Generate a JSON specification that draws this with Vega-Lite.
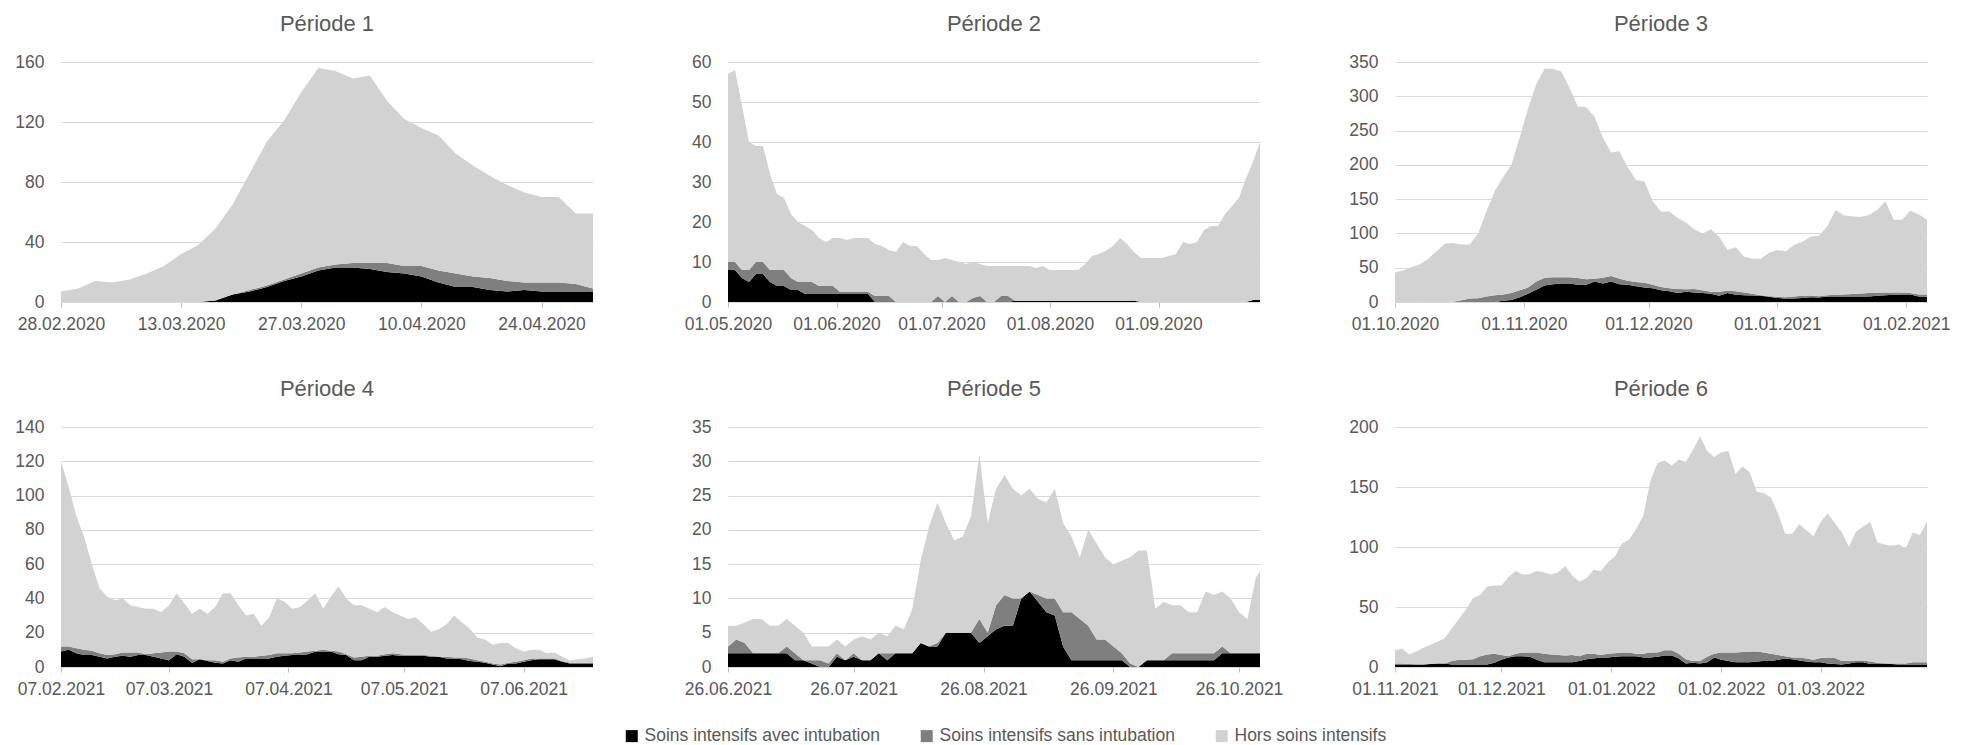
{
"$schema": "https://vega.github.io/schema/vega-lite/v6.json",
"background": "white",
"padding": {"left": 14, "top": 13, "right": 5, "bottom": 5},
"config": {
  "font": "Liberation Sans, Arial, sans-serif",
  "view": {"stroke": null},
  "title": {"fontSize": 22, "fontWeight": "normal", "color": "#595959", "offset": 17, "anchor": "middle", "font": "Liberation Sans, Arial, sans-serif"},
  "axis": {"labelFont": "Liberation Sans, Arial, sans-serif", "labelFontSize": 17.5, "labelColor": "#595959", "title": null},
  "axisX": {"grid": false, "domain": true, "domainColor": "#d9d9d9", "ticks": true, "tickColor": "#bfbfbf", "tickSize": 5, "labelPadding": 8, "labelFlush": false, "labelOverlap": false, "format": "%d.%m.%Y", "formatType": "utc"},
  "axisY": {"domain": false, "ticks": false, "grid": true, "gridColor": "#d9d9d9", "labelPadding": 17},
  "legend": {"labelFont": "Liberation Sans, Arial, sans-serif"},
  "area": {"interpolate": "linear"}
},
"datasets": {
  "series": [
    {"key": "avec", "rank": 1, "label": "Soins intensifs avec intubation"},
    {"key": "sans", "rank": 2, "label": "Soins intensifs sans intubation"},
    {"key": "hors", "rank": 3, "label": "Hors soins intensifs"}
  ],
  "p1": [
    {"d":"2020-02-28","avec":0,"sans":0,"hors":7},
    {"d":"2020-03-01","avec":0,"sans":0,"hors":9},
    {"d":"2020-03-03","avec":0,"sans":0,"hors":14},
    {"d":"2020-03-05","avec":0,"sans":0,"hors":13},
    {"d":"2020-03-07","avec":0,"sans":0,"hors":15},
    {"d":"2020-03-09","avec":0,"sans":0,"hors":19},
    {"d":"2020-03-11","avec":0,"sans":0,"hors":24},
    {"d":"2020-03-13","avec":0,"sans":0,"hors":32},
    {"d":"2020-03-15","avec":0,"sans":0,"hors":38},
    {"d":"2020-03-17","avec":1,"sans":0,"hors":48},
    {"d":"2020-03-19","avec":5,"sans":0,"hors":60},
    {"d":"2020-03-21","avec":7,"sans":1,"hors":78},
    {"d":"2020-03-23","avec":10,"sans":1,"hors":96},
    {"d":"2020-03-25","avec":14,"sans":1,"hors":106},
    {"d":"2020-03-27","avec":17,"sans":2,"hors":121},
    {"d":"2020-03-29","avec":21,"sans":2,"hors":133},
    {"d":"2020-03-31","avec":23,"sans":2,"hors":129},
    {"d":"2020-04-02","avec":23,"sans":3,"hors":123},
    {"d":"2020-04-04","avec":22,"sans":4,"hors":125},
    {"d":"2020-04-06","avec":20,"sans":6,"hors":108},
    {"d":"2020-04-08","avec":19,"sans":5,"hors":98},
    {"d":"2020-04-10","avec":17,"sans":7,"hors":92},
    {"d":"2020-04-12","avec":13,"sans":8,"hors":90},
    {"d":"2020-04-14","avec":10,"sans":9,"hors":80},
    {"d":"2020-04-16","avec":10,"sans":7,"hors":74},
    {"d":"2020-04-18","avec":8,"sans":8,"hors":68},
    {"d":"2020-04-20","avec":7,"sans":7,"hors":64},
    {"d":"2020-04-22","avec":8,"sans":5,"hors":60},
    {"d":"2020-04-24","avec":7,"sans":6,"hors":57},
    {"d":"2020-04-26","avec":7,"sans":6,"hors":57},
    {"d":"2020-04-28","avec":7,"sans":5,"hors":47},
    {"d":"2020-04-30","avec":7,"sans":2,"hors":50}
  ],
  "p2": [
    {"d":"2020-05-01","avec":8,"sans":2,"hors":47},
    {"d":"2020-05-03","avec":8,"sans":2,"hors":48},
    {"d":"2020-05-05","avec":6,"sans":2,"hors":41},
    {"d":"2020-05-07","avec":5,"sans":3,"hors":32},
    {"d":"2020-05-09","avec":7,"sans":3,"hors":29},
    {"d":"2020-05-11","avec":7,"sans":3,"hors":29},
    {"d":"2020-05-13","avec":5,"sans":3,"hors":24},
    {"d":"2020-05-15","avec":4,"sans":4,"hors":19},
    {"d":"2020-05-17","avec":4,"sans":4,"hors":18},
    {"d":"2020-05-19","avec":3,"sans":3,"hors":16},
    {"d":"2020-05-21","avec":3,"sans":2,"hors":15},
    {"d":"2020-05-23","avec":2,"sans":3,"hors":14},
    {"d":"2020-05-25","avec":2,"sans":3,"hors":13},
    {"d":"2020-05-27","avec":2,"sans":2,"hors":12},
    {"d":"2020-05-29","avec":2,"sans":2,"hors":11},
    {"d":"2020-05-31","avec":2,"sans":2,"hors":12},
    {"d":"2020-06-02","avec":2,"sans":0.5,"hors":13.5},
    {"d":"2020-06-04","avec":2,"sans":0.5,"hors":13},
    {"d":"2020-06-06","avec":2,"sans":0.5,"hors":13.5},
    {"d":"2020-06-08","avec":2,"sans":0.5,"hors":13.5},
    {"d":"2020-06-10","avec":2,"sans":0.5,"hors":13.5},
    {"d":"2020-06-12","avec":0,"sans":1.5,"hors":13},
    {"d":"2020-06-14","avec":0,"sans":1.5,"hors":12.5},
    {"d":"2020-06-16","avec":0,"sans":1.5,"hors":11.5},
    {"d":"2020-06-18","avec":0,"sans":0,"hors":12.5},
    {"d":"2020-06-20","avec":0,"sans":0,"hors":15},
    {"d":"2020-06-22","avec":0,"sans":0,"hors":14},
    {"d":"2020-06-24","avec":0,"sans":0,"hors":14},
    {"d":"2020-06-26","avec":0,"sans":0,"hors":12},
    {"d":"2020-06-28","avec":0,"sans":0,"hors":10.5},
    {"d":"2020-06-30","avec":0,"sans":1.5,"hors":9},
    {"d":"2020-07-02","avec":0,"sans":0,"hors":11},
    {"d":"2020-07-04","avec":0,"sans":1.5,"hors":9},
    {"d":"2020-07-06","avec":0,"sans":0,"hors":10},
    {"d":"2020-07-08","avec":0,"sans":0,"hors":9.5},
    {"d":"2020-07-10","avec":0,"sans":1,"hors":9},
    {"d":"2020-07-12","avec":0,"sans":1.5,"hors":8},
    {"d":"2020-07-14","avec":0,"sans":0,"hors":9},
    {"d":"2020-07-16","avec":0,"sans":0,"hors":9},
    {"d":"2020-07-18","avec":0,"sans":1.5,"hors":7.5},
    {"d":"2020-07-20","avec":0,"sans":1.5,"hors":7.5},
    {"d":"2020-07-22","avec":0.3,"sans":0,"hors":8.7},
    {"d":"2020-07-24","avec":0.3,"sans":0,"hors":8.7},
    {"d":"2020-07-26","avec":0.3,"sans":0,"hors":8.7},
    {"d":"2020-07-28","avec":0.3,"sans":0,"hors":8.2},
    {"d":"2020-07-30","avec":0.3,"sans":0,"hors":8.7},
    {"d":"2020-08-01","avec":0.3,"sans":0,"hors":7.7},
    {"d":"2020-08-03","avec":0.3,"sans":0,"hors":7.7},
    {"d":"2020-08-05","avec":0.3,"sans":0,"hors":7.7},
    {"d":"2020-08-07","avec":0.3,"sans":0,"hors":7.7},
    {"d":"2020-08-09","avec":0.3,"sans":0,"hors":7.7},
    {"d":"2020-08-11","avec":0.3,"sans":0,"hors":9.2},
    {"d":"2020-08-13","avec":0.3,"sans":0,"hors":11.2},
    {"d":"2020-08-15","avec":0.3,"sans":0,"hors":11.7},
    {"d":"2020-08-17","avec":0.3,"sans":0,"hors":12.5},
    {"d":"2020-08-19","avec":0.3,"sans":0,"hors":13.7},
    {"d":"2020-08-21","avec":0.3,"sans":0,"hors":15.7},
    {"d":"2020-08-23","avec":0.3,"sans":0,"hors":14.2},
    {"d":"2020-08-25","avec":0.3,"sans":0,"hors":12.2},
    {"d":"2020-08-27","avec":0,"sans":0,"hors":11},
    {"d":"2020-08-29","avec":0,"sans":0,"hors":11},
    {"d":"2020-08-31","avec":0,"sans":0,"hors":11},
    {"d":"2020-09-02","avec":0,"sans":0,"hors":11},
    {"d":"2020-09-04","avec":0,"sans":0,"hors":11.5},
    {"d":"2020-09-06","avec":0,"sans":0,"hors":12},
    {"d":"2020-09-08","avec":0,"sans":0,"hors":15},
    {"d":"2020-09-10","avec":0,"sans":0,"hors":14.5},
    {"d":"2020-09-12","avec":0,"sans":0,"hors":15},
    {"d":"2020-09-14","avec":0,"sans":0,"hors":18},
    {"d":"2020-09-16","avec":0,"sans":0,"hors":19},
    {"d":"2020-09-18","avec":0,"sans":0,"hors":19},
    {"d":"2020-09-20","avec":0,"sans":0,"hors":22},
    {"d":"2020-09-22","avec":0,"sans":0,"hors":24},
    {"d":"2020-09-24","avec":0,"sans":0,"hors":26},
    {"d":"2020-09-26","avec":0,"sans":0,"hors":31},
    {"d":"2020-09-28","avec":0.5,"sans":0,"hors":34.5},
    {"d":"2020-09-30","avec":0.5,"sans":0,"hors":39.5}
  ],
  "p3": [
    {"d":"2020-10-01","avec":0,"sans":0,"hors":43},
    {"d":"2020-10-03","avec":0,"sans":0,"hors":46},
    {"d":"2020-10-05","avec":0,"sans":0,"hors":51},
    {"d":"2020-10-07","avec":0,"sans":0,"hors":55},
    {"d":"2020-10-09","avec":0,"sans":0,"hors":63},
    {"d":"2020-10-11","avec":0,"sans":0,"hors":74},
    {"d":"2020-10-13","avec":0,"sans":0,"hors":85},
    {"d":"2020-10-15","avec":0,"sans":0.5,"hors":85.5},
    {"d":"2020-10-17","avec":0,"sans":2.5,"hors":81.5},
    {"d":"2020-10-19","avec":0,"sans":5,"hors":79},
    {"d":"2020-10-21","avec":0,"sans":5.5,"hors":94.5},
    {"d":"2020-10-23","avec":0,"sans":8,"hors":124},
    {"d":"2020-10-25","avec":0,"sans":10,"hors":152},
    {"d":"2020-10-27","avec":2,"sans":9,"hors":171},
    {"d":"2020-10-29","avec":3,"sans":10,"hors":187},
    {"d":"2020-10-31","avec":7,"sans":10,"hors":223},
    {"d":"2020-11-02","avec":12,"sans":9,"hors":261},
    {"d":"2020-11-04","avec":18,"sans":12,"hors":288},
    {"d":"2020-11-06","avec":24,"sans":11.5,"hors":304.5},
    {"d":"2020-11-08","avec":26,"sans":10,"hors":304},
    {"d":"2020-11-10","avec":27,"sans":9,"hors":300},
    {"d":"2020-11-12","avec":27,"sans":9,"hors":276},
    {"d":"2020-11-14","avec":25,"sans":10,"hors":250},
    {"d":"2020-11-16","avec":25,"sans":8,"hors":251},
    {"d":"2020-11-18","avec":30,"sans":4,"hors":236},
    {"d":"2020-11-20","avec":27,"sans":8.5,"hors":204.5},
    {"d":"2020-11-22","avec":30,"sans":8,"hors":180},
    {"d":"2020-11-24","avec":26,"sans":8,"hors":186},
    {"d":"2020-11-26","avec":25,"sans":6,"hors":165},
    {"d":"2020-11-28","avec":23,"sans":6,"hors":149},
    {"d":"2020-11-30","avec":21,"sans":7,"hors":148},
    {"d":"2020-12-02","avec":20,"sans":5,"hors":122},
    {"d":"2020-12-04","avec":17,"sans":5,"hors":110},
    {"d":"2020-12-06","avec":15.5,"sans":4.5,"hors":112},
    {"d":"2020-12-08","avec":13,"sans":6,"hors":104},
    {"d":"2020-12-10","avec":15,"sans":3.5,"hors":97.5},
    {"d":"2020-12-12","avec":14,"sans":5,"hors":87},
    {"d":"2020-12-14","avec":13,"sans":4,"hors":83},
    {"d":"2020-12-16","avec":12,"sans":3,"hors":91},
    {"d":"2020-12-18","avec":9,"sans":6,"hors":80},
    {"d":"2020-12-20","avec":13,"sans":3.5,"hors":59.5},
    {"d":"2020-12-22","avec":10.5,"sans":5,"hors":64.5},
    {"d":"2020-12-24","avec":10,"sans":4,"hors":52},
    {"d":"2020-12-26","avec":9.5,"sans":2.5,"hors":51},
    {"d":"2020-12-28","avec":9,"sans":1,"hors":53},
    {"d":"2020-12-30","avec":7.5,"sans":1,"hors":63.5},
    {"d":"2021-01-01","avec":6,"sans":1.5,"hors":68.5},
    {"d":"2021-01-03","avec":5,"sans":2,"hors":67},
    {"d":"2021-01-05","avec":5,"sans":3,"hors":75},
    {"d":"2021-01-07","avec":6,"sans":3,"hors":79},
    {"d":"2021-01-09","avec":7,"sans":2.5,"hors":85.5},
    {"d":"2021-01-11","avec":6.5,"sans":2,"hors":88.5},
    {"d":"2021-01-13","avec":8,"sans":2,"hors":100},
    {"d":"2021-01-15","avec":8,"sans":2.5,"hors":123.5},
    {"d":"2021-01-17","avec":8,"sans":3,"hors":115},
    {"d":"2021-01-19","avec":8,"sans":3.5,"hors":113.5},
    {"d":"2021-01-21","avec":8,"sans":4.5,"hors":111.5},
    {"d":"2021-01-23","avec":8,"sans":5,"hors":114},
    {"d":"2021-01-25","avec":9,"sans":4.5,"hors":120.5},
    {"d":"2021-01-27","avec":10,"sans":4,"hors":133},
    {"d":"2021-01-29","avec":10.5,"sans":3.5,"hors":106},
    {"d":"2021-01-31","avec":11,"sans":3,"hors":106},
    {"d":"2021-02-02","avec":11,"sans":2,"hors":120},
    {"d":"2021-02-04","avec":8,"sans":3,"hors":117},
    {"d":"2021-02-06","avec":7.5,"sans":3.5,"hors":109}
  ],
  "p4": [
    {"d":"2021-02-07","avec":9,"sans":3,"hors":108},
    {"d":"2021-02-09","avec":10,"sans":2,"hors":93},
    {"d":"2021-02-11","avec":8,"sans":3,"hors":77},
    {"d":"2021-02-13","avec":7,"sans":3,"hors":66},
    {"d":"2021-02-15","avec":7,"sans":2.5,"hors":50.5},
    {"d":"2021-02-17","avec":6,"sans":2,"hors":38},
    {"d":"2021-02-19","avec":5,"sans":2,"hors":34},
    {"d":"2021-02-21","avec":6,"sans":1.5,"hors":31.5},
    {"d":"2021-02-23","avec":6.5,"sans":2,"hors":31.5},
    {"d":"2021-02-25","avec":6,"sans":2.5,"hors":27.5},
    {"d":"2021-02-27","avec":7,"sans":1.5,"hors":26.5},
    {"d":"2021-03-01","avec":7,"sans":0.5,"hors":26.5},
    {"d":"2021-03-03","avec":6,"sans":2,"hors":26},
    {"d":"2021-03-05","avec":5,"sans":3.5,"hors":23.5},
    {"d":"2021-03-07","avec":4,"sans":5,"hors":27},
    {"d":"2021-03-09","avec":7.5,"sans":1.5,"hors":34},
    {"d":"2021-03-11","avec":6,"sans":2,"hors":29},
    {"d":"2021-03-13","avec":2.5,"sans":2,"hors":26.5},
    {"d":"2021-03-15","avec":4.5,"sans":0,"hors":29.5},
    {"d":"2021-03-17","avec":3.5,"sans":0.5,"hors":27},
    {"d":"2021-03-19","avec":2.5,"sans":1.5,"hors":31},
    {"d":"2021-03-21","avec":2,"sans":1,"hors":40},
    {"d":"2021-03-23","avec":4,"sans":1,"hors":38},
    {"d":"2021-03-25","avec":3,"sans":2.5,"hors":30.5},
    {"d":"2021-03-27","avec":5,"sans":1,"hors":24},
    {"d":"2021-03-29","avec":5,"sans":1,"hors":25},
    {"d":"2021-03-31","avec":5,"sans":1.5,"hors":17.5},
    {"d":"2021-04-02","avec":5,"sans":2,"hors":22},
    {"d":"2021-04-04","avec":6,"sans":2,"hors":32},
    {"d":"2021-04-06","avec":6.5,"sans":1.5,"hors":30},
    {"d":"2021-04-08","avec":7,"sans":1,"hors":26},
    {"d":"2021-04-10","avec":7,"sans":1.5,"hors":26.5},
    {"d":"2021-04-12","avec":7.5,"sans":1.5,"hors":30},
    {"d":"2021-04-14","avec":9,"sans":0.5,"hors":33.5},
    {"d":"2021-04-16","avec":9,"sans":1,"hors":24},
    {"d":"2021-04-18","avec":9,"sans":0.5,"hors":31.5},
    {"d":"2021-04-20","avec":7.5,"sans":1.5,"hors":38},
    {"d":"2021-04-22","avec":7,"sans":0.5,"hors":32.5},
    {"d":"2021-04-24","avec":4,"sans":1.5,"hors":30.5},
    {"d":"2021-04-26","avec":4,"sans":2,"hors":30},
    {"d":"2021-04-28","avec":6,"sans":0.5,"hors":27.5},
    {"d":"2021-04-30","avec":6,"sans":0.5,"hors":25.5},
    {"d":"2021-05-02","avec":6.5,"sans":1,"hors":27.5},
    {"d":"2021-05-04","avec":7,"sans":1,"hors":24},
    {"d":"2021-05-06","avec":6.5,"sans":1,"hors":22.5},
    {"d":"2021-05-08","avec":6.5,"sans":0.5,"hors":21},
    {"d":"2021-05-10","avec":6.5,"sans":0.5,"hors":22},
    {"d":"2021-05-12","avec":6.5,"sans":0.5,"hors":18},
    {"d":"2021-05-14","avec":6,"sans":0.5,"hors":14},
    {"d":"2021-05-16","avec":6,"sans":0,"hors":16},
    {"d":"2021-05-18","avec":5,"sans":1,"hors":19},
    {"d":"2021-05-20","avec":5,"sans":0.5,"hors":24.5},
    {"d":"2021-05-22","avec":4.5,"sans":1,"hors":20.5},
    {"d":"2021-05-24","avec":3.5,"sans":1.5,"hors":17.5},
    {"d":"2021-05-26","avec":3,"sans":1,"hors":13},
    {"d":"2021-05-28","avec":2.5,"sans":0.5,"hors":13},
    {"d":"2021-05-30","avec":1.5,"sans":0.5,"hors":11},
    {"d":"2021-06-01","avec":0.5,"sans":1,"hors":12.5},
    {"d":"2021-06-03","avec":2,"sans":0.5,"hors":11.5},
    {"d":"2021-06-05","avec":2,"sans":1,"hors":8},
    {"d":"2021-06-07","avec":3,"sans":1,"hors":5},
    {"d":"2021-06-09","avec":4,"sans":1,"hors":5},
    {"d":"2021-06-11","avec":4.5,"sans":0.5,"hors":5},
    {"d":"2021-06-13","avec":4.5,"sans":0.5,"hors":3},
    {"d":"2021-06-15","avec":4.5,"sans":0.5,"hors":3.5},
    {"d":"2021-06-17","avec":3,"sans":0.5,"hors":2.5},
    {"d":"2021-06-19","avec":2,"sans":0.5,"hors":1.5},
    {"d":"2021-06-21","avec":2,"sans":0.5,"hors":2},
    {"d":"2021-06-23","avec":2,"sans":0.5,"hors":2.5},
    {"d":"2021-06-25","avec":2,"sans":0.5,"hors":3.5}
  ],
  "p5": [
    {"d":"2021-06-26","avec":2,"sans":1,"hors":3},
    {"d":"2021-06-28","avec":2,"sans":2,"hors":2},
    {"d":"2021-06-30","avec":2,"sans":1.5,"hors":3},
    {"d":"2021-07-02","avec":2,"sans":0,"hors":5},
    {"d":"2021-07-04","avec":2,"sans":0,"hors":5},
    {"d":"2021-07-06","avec":2,"sans":0,"hors":4},
    {"d":"2021-07-08","avec":2,"sans":0,"hors":4},
    {"d":"2021-07-10","avec":2,"sans":1,"hors":4},
    {"d":"2021-07-12","avec":1,"sans":1,"hors":4},
    {"d":"2021-07-14","avec":1,"sans":0,"hors":4},
    {"d":"2021-07-16","avec":0.5,"sans":0.5,"hors":2},
    {"d":"2021-07-18","avec":0,"sans":1,"hors":2},
    {"d":"2021-07-20","avec":0,"sans":0.5,"hors":2.5},
    {"d":"2021-07-22","avec":1.5,"sans":0.5,"hors":2},
    {"d":"2021-07-24","avec":1,"sans":0,"hors":2},
    {"d":"2021-07-26","avec":1.5,"sans":0.5,"hors":2},
    {"d":"2021-07-28","avec":1,"sans":0,"hors":3.5},
    {"d":"2021-07-30","avec":1,"sans":0,"hors":3},
    {"d":"2021-08-01","avec":2,"sans":0,"hors":3},
    {"d":"2021-08-03","avec":1,"sans":1,"hors":2.5},
    {"d":"2021-08-05","avec":2,"sans":0,"hors":4},
    {"d":"2021-08-07","avec":2,"sans":0,"hors":3.5},
    {"d":"2021-08-09","avec":2,"sans":0,"hors":6.5},
    {"d":"2021-08-11","avec":3.5,"sans":0,"hors":12},
    {"d":"2021-08-13","avec":3,"sans":0,"hors":17.5},
    {"d":"2021-08-15","avec":3,"sans":0.5,"hors":20.5},
    {"d":"2021-08-17","avec":5,"sans":0,"hors":16},
    {"d":"2021-08-19","avec":5,"sans":0,"hors":13.5},
    {"d":"2021-08-21","avec":5,"sans":0,"hors":14},
    {"d":"2021-08-23","avec":5,"sans":0,"hors":17},
    {"d":"2021-08-25","avec":3.5,"sans":3.5,"hors":24},
    {"d":"2021-08-27","avec":4.5,"sans":0.5,"hors":16},
    {"d":"2021-08-29","avec":5.5,"sans":3.5,"hors":17},
    {"d":"2021-08-31","avec":6,"sans":4.5,"hors":17.5},
    {"d":"2021-09-02","avec":6,"sans":4,"hors":16},
    {"d":"2021-09-04","avec":10,"sans":0,"hors":15},
    {"d":"2021-09-06","avec":11,"sans":0,"hors":15},
    {"d":"2021-09-08","avec":9.5,"sans":1,"hors":14},
    {"d":"2021-09-10","avec":8,"sans":2,"hors":14},
    {"d":"2021-09-12","avec":7.5,"sans":2.5,"hors":16},
    {"d":"2021-09-14","avec":3,"sans":5,"hors":13},
    {"d":"2021-09-16","avec":1,"sans":7,"hors":11},
    {"d":"2021-09-18","avec":1,"sans":6,"hors":9},
    {"d":"2021-09-20","avec":1,"sans":5,"hors":14},
    {"d":"2021-09-22","avec":1,"sans":3,"hors":14},
    {"d":"2021-09-24","avec":1,"sans":3,"hors":12},
    {"d":"2021-09-26","avec":1,"sans":2,"hors":12},
    {"d":"2021-09-28","avec":1,"sans":1,"hors":13.5},
    {"d":"2021-09-30","avec":0,"sans":0.5,"hors":15.5},
    {"d":"2021-10-02","avec":0,"sans":0,"hors":17},
    {"d":"2021-10-04","avec":1,"sans":0,"hors":16},
    {"d":"2021-10-06","avec":1,"sans":0,"hors":7.5},
    {"d":"2021-10-08","avec":1,"sans":0,"hors":8.5},
    {"d":"2021-10-10","avec":1,"sans":1,"hors":7},
    {"d":"2021-10-12","avec":1,"sans":1,"hors":7},
    {"d":"2021-10-14","avec":1,"sans":1,"hors":6},
    {"d":"2021-10-16","avec":1,"sans":1,"hors":6},
    {"d":"2021-10-18","avec":1,"sans":1,"hors":9},
    {"d":"2021-10-20","avec":1,"sans":1,"hors":8.5},
    {"d":"2021-10-22","avec":2,"sans":1,"hors":8},
    {"d":"2021-10-24","avec":2,"sans":0,"hors":8},
    {"d":"2021-10-26","avec":2,"sans":0,"hors":6},
    {"d":"2021-10-28","avec":2,"sans":0,"hors":5},
    {"d":"2021-10-30","avec":2,"sans":0,"hors":11},
    {"d":"2021-10-31","avec":2,"sans":0,"hors":12}
  ],
  "p6": [
    {"d":"2021-11-01","avec":2,"sans":1,"hors":11},
    {"d":"2021-11-03","avec":2,"sans":1,"hors":12.5},
    {"d":"2021-11-05","avec":2,"sans":0.5,"hors":8},
    {"d":"2021-11-07","avec":2,"sans":0,"hors":11},
    {"d":"2021-11-09","avec":2,"sans":0,"hors":14},
    {"d":"2021-11-11","avec":2.5,"sans":0,"hors":16},
    {"d":"2021-11-13","avec":3,"sans":0,"hors":18},
    {"d":"2021-11-15","avec":3,"sans":0,"hors":21},
    {"d":"2021-11-17","avec":2,"sans":3,"hors":27},
    {"d":"2021-11-19","avec":2,"sans":4,"hors":34},
    {"d":"2021-11-21","avec":2,"sans":4,"hors":42},
    {"d":"2021-11-23","avec":2,"sans":4.5,"hors":51},
    {"d":"2021-11-25","avec":2,"sans":7,"hors":51},
    {"d":"2021-11-27","avec":2,"sans":8.5,"hors":56.5},
    {"d":"2021-11-29","avec":3.5,"sans":7.5,"hors":57},
    {"d":"2021-12-01","avec":6,"sans":4,"hors":58},
    {"d":"2021-12-03","avec":8,"sans":1,"hors":66},
    {"d":"2021-12-05","avec":9,"sans":2,"hors":69},
    {"d":"2021-12-07","avec":9,"sans":3,"hors":65},
    {"d":"2021-12-09","avec":8.5,"sans":3.5,"hors":65.5},
    {"d":"2021-12-11","avec":6,"sans":6,"hors":68},
    {"d":"2021-12-13","avec":4,"sans":7,"hors":68},
    {"d":"2021-12-15","avec":4,"sans":6.5,"hors":66.5},
    {"d":"2021-12-17","avec":4,"sans":6,"hors":69},
    {"d":"2021-12-19","avec":4,"sans":5.5,"hors":74.5},
    {"d":"2021-12-21","avec":4,"sans":6,"hors":66},
    {"d":"2021-12-23","avec":5,"sans":4,"hors":62},
    {"d":"2021-12-25","avec":6.5,"sans":4.5,"hors":63},
    {"d":"2021-12-27","avec":7,"sans":4,"hors":70},
    {"d":"2021-12-29","avec":8,"sans":2,"hors":70},
    {"d":"2021-12-31","avec":8,"sans":3,"hors":76},
    {"d":"2022-01-02","avec":8.5,"sans":3,"hors":80.5},
    {"d":"2022-01-04","avec":9,"sans":3,"hors":91},
    {"d":"2022-01-06","avec":9,"sans":3,"hors":94},
    {"d":"2022-01-08","avec":9,"sans":2,"hors":104},
    {"d":"2022-01-10","avec":8,"sans":3,"hors":115},
    {"d":"2022-01-12","avec":8,"sans":4,"hors":143},
    {"d":"2022-01-14","avec":8.5,"sans":3.5,"hors":158},
    {"d":"2022-01-16","avec":9.5,"sans":4.5,"hors":158},
    {"d":"2022-01-18","avec":9.5,"sans":4.5,"hors":154},
    {"d":"2022-01-20","avec":7,"sans":4,"hors":162},
    {"d":"2022-01-22","avec":3,"sans":3.5,"hors":164.5},
    {"d":"2022-01-24","avec":3.5,"sans":1.5,"hors":176},
    {"d":"2022-01-26","avec":3,"sans":2,"hors":187},
    {"d":"2022-01-28","avec":4,"sans":4.5,"hors":171.5},
    {"d":"2022-01-30","avec":8,"sans":3,"hors":164},
    {"d":"2022-02-01","avec":6,"sans":6,"hors":167},
    {"d":"2022-02-03","avec":5,"sans":7,"hors":168},
    {"d":"2022-02-05","avec":4,"sans":8,"hors":149},
    {"d":"2022-02-07","avec":4,"sans":8.5,"hors":154.5},
    {"d":"2022-02-09","avec":4,"sans":9,"hors":149},
    {"d":"2022-02-11","avec":4.5,"sans":8.5,"hors":133},
    {"d":"2022-02-13","avec":5,"sans":7,"hors":133},
    {"d":"2022-02-15","avec":5,"sans":6,"hors":130},
    {"d":"2022-02-17","avec":6,"sans":4,"hors":118},
    {"d":"2022-02-19","avec":7,"sans":2,"hors":102},
    {"d":"2022-02-21","avec":6.5,"sans":1.5,"hors":103},
    {"d":"2022-02-23","avec":5.5,"sans":2.5,"hors":111},
    {"d":"2022-02-25","avec":4.5,"sans":2.5,"hors":107},
    {"d":"2022-02-27","avec":4,"sans":2,"hors":103},
    {"d":"2022-03-01","avec":4,"sans":3.5,"hors":113.5},
    {"d":"2022-03-03","avec":3,"sans":5,"hors":120},
    {"d":"2022-03-05","avec":2.5,"sans":5,"hors":112.5},
    {"d":"2022-03-07","avec":2,"sans":3,"hors":107},
    {"d":"2022-03-09","avec":3,"sans":2,"hors":95},
    {"d":"2022-03-11","avec":4,"sans":1.5,"hors":107.5},
    {"d":"2022-03-13","avec":4,"sans":1.5,"hors":111.5},
    {"d":"2022-03-15","avec":2.5,"sans":2,"hors":116.5},
    {"d":"2022-03-17","avec":2.5,"sans":1,"hors":100.5},
    {"d":"2022-03-19","avec":3,"sans":0,"hors":99},
    {"d":"2022-03-21","avec":2.5,"sans":0.5,"hors":98},
    {"d":"2022-03-23","avec":2,"sans":1,"hors":99},
    {"d":"2022-03-25","avec":2,"sans":1,"hors":96},
    {"d":"2022-03-27","avec":2,"sans":2,"hors":108},
    {"d":"2022-03-29","avec":2,"sans":2,"hors":106},
    {"d":"2022-03-31","avec":2,"sans":2,"hors":117}
  ]
},
"columns": 3,
"bounds": "flush",
"spacing": {"row": 125, "column": 135},
"concat": [
  {
    "title": "Période 1", "width": 532, "height": 240,
    "data": {"name": "p1"},
    "transform": [{"fold": ["avec", "sans", "hors"], "as": ["key", "n"]}, {"lookup": "key", "from": {"data": {"name": "series"}, "key": "key", "fields": ["rank", "label"]}}],
    "mark": {"type": "area"},
    "encoding": {
      "x": {"field": "d", "type": "temporal", "scale": {"type": "utc", "domain": [{"year": 2020, "month": 2, "date": 28, "utc": true}, {"year": 2020, "month": 4, "date": 30, "utc": true}]},
            "axis": {"values": [{"year": 2020, "month": 2, "date": 28, "utc": true}, {"year": 2020, "month": 3, "date": 13, "utc": true}, {"year": 2020, "month": 3, "date": 27, "utc": true}, {"year": 2020, "month": 4, "date": 10, "utc": true}, {"year": 2020, "month": 4, "date": 24, "utc": true}]}},
      "y": {"field": "n", "type": "quantitative", "stack": "zero", "scale": {"domain": [0, 160], "nice": false}, "axis": {"values": [0, 40, 80, 120, 160]}},
      "color": {"field": "label", "type": "nominal", "scale": {"domain": ["Soins intensifs avec intubation", "Soins intensifs sans intubation", "Hors soins intensifs"], "range": ["#000000", "#7f7f7f", "#d2d2d2"]},
                "legend": {"title": null, "orient": "none", "direction": "horizontal", "legendX": 562, "legendY": 665, "symbolType": "square", "symbolSize": 144, "symbolStrokeWidth": 0, "labelFontSize": 17.5, "labelColor": "#595959", "labelOffset": 4, "labelLimit": 500, "columnPadding": 38, "padding": 0}},
      "order": {"field": "rank", "type": "quantitative", "sort": "ascending"}
    }
  },
  {
    "title": "Période 2", "width": 532, "height": 240,
    "data": {"name": "p2"},
    "transform": [{"fold": ["avec", "sans", "hors"], "as": ["key", "n"]}, {"lookup": "key", "from": {"data": {"name": "series"}, "key": "key", "fields": ["rank", "label"]}}],
    "mark": {"type": "area"},
    "encoding": {
      "x": {"field": "d", "type": "temporal", "scale": {"type": "utc", "domain": [{"year": 2020, "month": 5, "date": 1, "utc": true}, {"year": 2020, "month": 9, "date": 30, "utc": true}]},
            "axis": {"values": [{"year": 2020, "month": 5, "date": 1, "utc": true}, {"year": 2020, "month": 6, "date": 1, "utc": true}, {"year": 2020, "month": 7, "date": 1, "utc": true}, {"year": 2020, "month": 8, "date": 1, "utc": true}, {"year": 2020, "month": 9, "date": 1, "utc": true}]}},
      "y": {"field": "n", "type": "quantitative", "stack": "zero", "scale": {"domain": [0, 60], "nice": false}, "axis": {"values": [0, 10, 20, 30, 40, 50, 60]}},
      "color": {"field": "label", "type": "nominal", "scale": {"domain": ["Soins intensifs avec intubation", "Soins intensifs sans intubation", "Hors soins intensifs"], "range": ["#000000", "#7f7f7f", "#d2d2d2"]},
                "legend": {"title": null, "orient": "none", "direction": "horizontal", "legendX": 562, "legendY": 665, "symbolType": "square", "symbolSize": 144, "symbolStrokeWidth": 0, "labelFontSize": 17.5, "labelColor": "#595959", "labelOffset": 4, "labelLimit": 500, "columnPadding": 38, "padding": 0}},
      "order": {"field": "rank", "type": "quantitative", "sort": "ascending"}
    }
  },
  {
    "title": "Période 3", "width": 532, "height": 240,
    "data": {"name": "p3"},
    "transform": [{"fold": ["avec", "sans", "hors"], "as": ["key", "n"]}, {"lookup": "key", "from": {"data": {"name": "series"}, "key": "key", "fields": ["rank", "label"]}}],
    "mark": {"type": "area"},
    "encoding": {
      "x": {"field": "d", "type": "temporal", "scale": {"type": "utc", "domain": [{"year": 2020, "month": 10, "date": 1, "utc": true}, {"year": 2021, "month": 2, "date": 6, "utc": true}]},
            "axis": {"values": [{"year": 2020, "month": 10, "date": 1, "utc": true}, {"year": 2020, "month": 11, "date": 1, "utc": true}, {"year": 2020, "month": 12, "date": 1, "utc": true}, {"year": 2021, "month": 1, "date": 1, "utc": true}, {"year": 2021, "month": 2, "date": 1, "utc": true}]}},
      "y": {"field": "n", "type": "quantitative", "stack": "zero", "scale": {"domain": [0, 350], "nice": false}, "axis": {"values": [0, 50, 100, 150, 200, 250, 300, 350]}},
      "color": {"field": "label", "type": "nominal", "scale": {"domain": ["Soins intensifs avec intubation", "Soins intensifs sans intubation", "Hors soins intensifs"], "range": ["#000000", "#7f7f7f", "#d2d2d2"]},
                "legend": {"title": null, "orient": "none", "direction": "horizontal", "legendX": 562, "legendY": 665, "symbolType": "square", "symbolSize": 144, "symbolStrokeWidth": 0, "labelFontSize": 17.5, "labelColor": "#595959", "labelOffset": 4, "labelLimit": 500, "columnPadding": 38, "padding": 0}},
      "order": {"field": "rank", "type": "quantitative", "sort": "ascending"}
    }
  },
  {
    "title": "Période 4", "width": 532, "height": 240,
    "data": {"name": "p4"},
    "transform": [{"fold": ["avec", "sans", "hors"], "as": ["key", "n"]}, {"lookup": "key", "from": {"data": {"name": "series"}, "key": "key", "fields": ["rank", "label"]}}],
    "mark": {"type": "area"},
    "encoding": {
      "x": {"field": "d", "type": "temporal", "scale": {"type": "utc", "domain": [{"year": 2021, "month": 2, "date": 7, "utc": true}, {"year": 2021, "month": 6, "date": 25, "utc": true}]},
            "axis": {"values": [{"year": 2021, "month": 2, "date": 7, "utc": true}, {"year": 2021, "month": 3, "date": 7, "utc": true}, {"year": 2021, "month": 4, "date": 7, "utc": true}, {"year": 2021, "month": 5, "date": 7, "utc": true}, {"year": 2021, "month": 6, "date": 7, "utc": true}]}},
      "y": {"field": "n", "type": "quantitative", "stack": "zero", "scale": {"domain": [0, 140], "nice": false}, "axis": {"values": [0, 20, 40, 60, 80, 100, 120, 140]}},
      "color": {"field": "label", "type": "nominal", "scale": {"domain": ["Soins intensifs avec intubation", "Soins intensifs sans intubation", "Hors soins intensifs"], "range": ["#000000", "#7f7f7f", "#d2d2d2"]},
                "legend": {"title": null, "orient": "none", "direction": "horizontal", "legendX": 562, "legendY": 665, "symbolType": "square", "symbolSize": 144, "symbolStrokeWidth": 0, "labelFontSize": 17.5, "labelColor": "#595959", "labelOffset": 4, "labelLimit": 500, "columnPadding": 38, "padding": 0}},
      "order": {"field": "rank", "type": "quantitative", "sort": "ascending"}
    }
  },
  {
    "title": "Période 5", "width": 532, "height": 240,
    "data": {"name": "p5"},
    "transform": [{"fold": ["avec", "sans", "hors"], "as": ["key", "n"]}, {"lookup": "key", "from": {"data": {"name": "series"}, "key": "key", "fields": ["rank", "label"]}}],
    "mark": {"type": "area"},
    "encoding": {
      "x": {"field": "d", "type": "temporal", "scale": {"type": "utc", "domain": [{"year": 2021, "month": 6, "date": 26, "utc": true}, {"year": 2021, "month": 10, "date": 31, "utc": true}]},
            "axis": {"values": [{"year": 2021, "month": 6, "date": 26, "utc": true}, {"year": 2021, "month": 7, "date": 26, "utc": true}, {"year": 2021, "month": 8, "date": 26, "utc": true}, {"year": 2021, "month": 9, "date": 26, "utc": true}, {"year": 2021, "month": 10, "date": 26, "utc": true}]}},
      "y": {"field": "n", "type": "quantitative", "stack": "zero", "scale": {"domain": [0, 35], "nice": false}, "axis": {"values": [0, 5, 10, 15, 20, 25, 30, 35]}},
      "color": {"field": "label", "type": "nominal", "scale": {"domain": ["Soins intensifs avec intubation", "Soins intensifs sans intubation", "Hors soins intensifs"], "range": ["#000000", "#7f7f7f", "#d2d2d2"]},
                "legend": {"title": null, "orient": "none", "direction": "horizontal", "legendX": 562, "legendY": 665, "symbolType": "square", "symbolSize": 144, "symbolStrokeWidth": 0, "labelFontSize": 17.5, "labelColor": "#595959", "labelOffset": 4, "labelLimit": 500, "columnPadding": 38, "padding": 0}},
      "order": {"field": "rank", "type": "quantitative", "sort": "ascending"}
    }
  },
  {
    "title": "Période 6", "width": 532, "height": 240,
    "data": {"name": "p6"},
    "transform": [{"fold": ["avec", "sans", "hors"], "as": ["key", "n"]}, {"lookup": "key", "from": {"data": {"name": "series"}, "key": "key", "fields": ["rank", "label"]}}],
    "mark": {"type": "area"},
    "encoding": {
      "x": {"field": "d", "type": "temporal", "scale": {"type": "utc", "domain": [{"year": 2021, "month": 11, "date": 1, "utc": true}, {"year": 2022, "month": 3, "date": 31, "utc": true}]},
            "axis": {"values": [{"year": 2021, "month": 11, "date": 1, "utc": true}, {"year": 2021, "month": 12, "date": 1, "utc": true}, {"year": 2022, "month": 1, "date": 1, "utc": true}, {"year": 2022, "month": 2, "date": 1, "utc": true}, {"year": 2022, "month": 3, "date": 1, "utc": true}]}},
      "y": {"field": "n", "type": "quantitative", "stack": "zero", "scale": {"domain": [0, 200], "nice": false}, "axis": {"values": [0, 50, 100, 150, 200]}},
      "color": {"field": "label", "type": "nominal", "scale": {"domain": ["Soins intensifs avec intubation", "Soins intensifs sans intubation", "Hors soins intensifs"], "range": ["#000000", "#7f7f7f", "#d2d2d2"]},
                "legend": {"title": null, "orient": "none", "direction": "horizontal", "legendX": 562, "legendY": 665, "symbolType": "square", "symbolSize": 144, "symbolStrokeWidth": 0, "labelFontSize": 17.5, "labelColor": "#595959", "labelOffset": 4, "labelLimit": 500, "columnPadding": 38, "padding": 0}},
      "order": {"field": "rank", "type": "quantitative", "sort": "ascending"}
    }
  }
]
}
